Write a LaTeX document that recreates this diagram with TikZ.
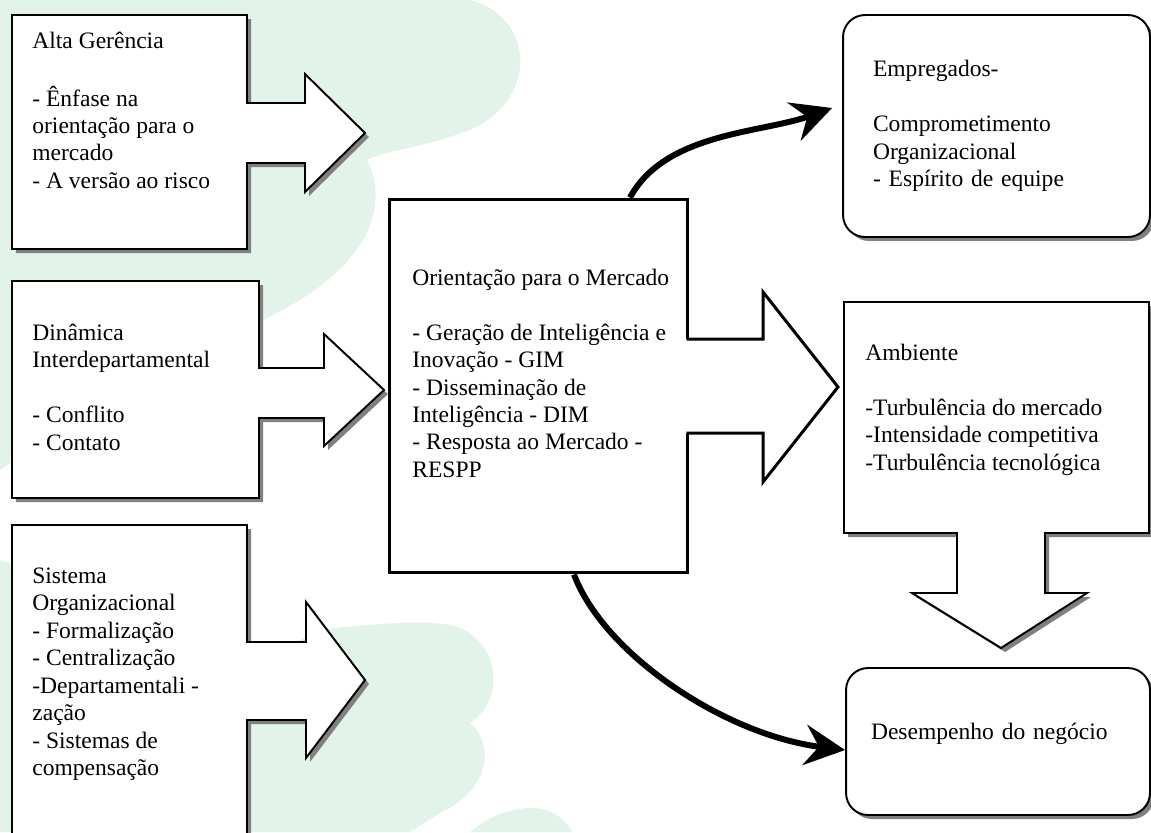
\documentclass[tikz,border=0pt]{standalone}
\usepackage{fontspec}
\setmainfont{Liberation Serif}
\usepackage{tikz}
\usetikzlibrary{shadows,arrows.meta}
\definecolor{leafgreen}{RGB}{226,243,234}
\definecolor{shadowgray}{RGB}{128,128,128}

\begin{document}
\begin{tikzpicture}[x=0.02cm, y=-0.02cm,
    boxshade/.style={drop shadow={shadow xshift=0.08cm, shadow yshift=-0.08cm, opacity=1, fill=shadowgray}},
    callout/.style={draw=black, line width=1.1pt, fill=white, boxshade, line join=miter},
    txt/.style={anchor=north west, inner sep=0pt, align=left, font=\fontsize{13.4}{15.6}\selectfont},
    roundbox/.style={draw=black, line width=1.1pt, fill=white, rounded corners=0.44cm, boxshade,
      align=left, inner ysep=0pt, font=\fontsize{13.4}{15.6}\selectfont},
    bendarrow/.style={line width=3.4pt, -{Stealth[length=23pt, width=23pt, inset=8pt]}}]
  \useasboundingbox (0,0) rectangle (1151,832);
  \clip (0,0) rectangle (1151,832);

  % fundo
  \fill[leafgreen] (0,0) -- (470,0) .. controls (530,15) and (540,90) .. (480,125)
    .. controls (440,145) and (385,150) .. (367,160) .. controls (385,195) and (380,250) .. (300,300)
    .. controls (230,340) and (100,400) .. (0,470) -- cycle;
  \fill[leafgreen] (0,560) .. controls (120,600) and (250,660) .. (300,640)
    .. controls (320,630) and (330,628) .. (345,627) .. controls (400,622) and (440,620) .. (460,628)
    .. controls (500,645) and (505,700) .. (470,723) .. controls (495,745) and (490,790) .. (440,813)
    -- (410,832) -- (0,832) -- cycle;
  \fill[leafgreen] (470,832) .. controls (490,815) and (515,807) .. (535,808)
    .. controls (555,810) and (568,822) .. (572,832) -- cycle;

  % caixas da esquerda
  \filldraw[callout] (12,15) -- (247,15) -- (247,103) -- (305,103) -- (305,74) -- (365,133)
    -- (305,192) -- (305,163) -- (247,163) -- (247,249) -- (12,249) -- cycle;
  \filldraw[callout] (12,281) -- (259,281) -- (259,368) -- (324,368) -- (324,334) -- (384,390)
    -- (324,446) -- (324,418) -- (259,418) -- (259,498) -- (12,498) -- cycle;
  \filldraw[callout] (12,525) -- (247,525) -- (247,642) -- (306,642) -- (306,602) -- (365,680)
    -- (306,758) -- (306,720) -- (247,720) -- (247,860) -- (12,860) -- cycle;

  \node[txt] (alta) at (32,29) {\strut Alta Gerência\\[15.6pt] - Ênfase na\\ orientação para o\\
    mercado\\ - A versão ao risco};
  \node[txt] (dinamica) at (32,321) {\strut Dinâmica\\ Interdepartamental\\[15.6pt] - Conflito\\
    - Contato};
  \node[txt] (sistema) at (32,564) {\strut Sistema\\ Organizacional\\ - Formalização\\
    - Centralização\\ -Departamentali -\\ zação\\ - Sistemas de\\ compensação};

  % orientacao para o mercado
  \node[draw, line width=1.7pt, fill=white, minimum width=5.98cm, minimum height=7.48cm,
    inner sep=0pt] (om) at (538.5,386) {};
  \fill[white] (684,339) -- (763,339) -- (763,292) -- (838,387) -- (763,482) -- (763,433)
    -- (684,433) -- cycle;
  \draw[line width=1.7pt, line join=miter] (686.5,339) -- (763,339) -- (763,292) -- (838,387)
    -- (763,482) -- (763,433) -- (686.5,433);
  \node[txt] (omtext) at (412,266) {\strut Orientação para o Mercado\\[15.6pt]
    - Geração de Inteligência e\\ Inovação - GIM\\ - Disseminação de\\ Inteligência - DIM\\
    - Resposta ao Mercado -\\ RESPP};

  % ambiente
  \filldraw[callout] (844,302) -- (1149,302) -- (1149,533) -- (1045,533) -- (1045,593)
    -- (1087,593) -- (1001,648) -- (912,593) -- (957,593) -- (957,533) -- (844,533) -- cycle;
  \node[txt] (ambiente) at (865,341) {\strut Ambiente\\[15.6pt] -Turbulência do mercado\\
    -Intensidade competitiva\\ -Turbulência tecnológica};

  % caixas arredondadas
  \node[roundbox, minimum width=6.14cm, minimum height=4.44cm, text width=4.94cm,
    inner xsep=0.6cm] (emp) at (996.5,126) {Empregados-\\[15.6pt] Comprometimento\\
    Organizacional\\ - Espírito de equipe};
  \node[roundbox, minimum width=6.08cm, minimum height=2.94cm, text width=5.08cm,
    inner xsep=0.5cm, text depth=12pt] (des) at (998,741.5) {Desempenho do negócio};

  \draw[bendarrow] ([xshift=1.83cm]om.north) .. controls +(35,-65) and +(-70,25)
    .. ([xshift=-0.2cm, yshift=0.36cm]emp.west);
  \draw[bendarrow] ([xshift=0.71cm]om.south) .. controls +(30,80) and +(-120,-15)
    .. ([yshift=-0.17cm]des.west);
\end{tikzpicture}
\end{document}
